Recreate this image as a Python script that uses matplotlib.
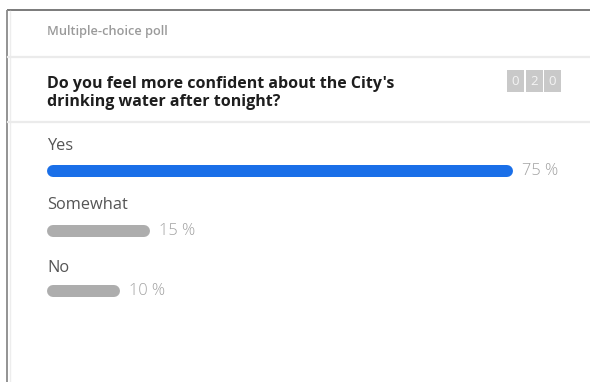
import matplotlib
matplotlib.use("Agg")
import matplotlib.pyplot as plt
from matplotlib.patches import Rectangle

plt.rcParams['font.family'] = ['Open Sans', 'DejaVu Sans']

# Poll content
poll_type = "Multiple-choice poll"
question = "Do you feel more confident about the City's\ndrinking water after tonight?"
options = ["Yes", "Somewhat", "No"]
percents = [75, 15, 10]
vote_digits = ["0", "2", "0"]

W, H = 590, 382
fig = plt.figure(figsize=(W / 100, H / 100), dpi=100)
fig.patch.set_facecolor("white")

# Overlay axes in pixel units for the card layout
lay = fig.add_axes([0, 0, 1, 1])
lay.set_xlim(0, W)
lay.set_ylim(H, 0)
lay.axis("off")

# Card frame
lay.plot([7, W], [10, 10], color="#6f6f6f", lw=1.3, solid_capstyle="butt")
lay.plot([7, 7], [10, H], color="#8a8a8a", lw=1.3, solid_capstyle="butt")
lay.plot([10, 10], [11, H], color="#ededed", lw=1.0)
# Section separators
for y in (57, 122):
    lay.plot([8, W], [y, y], color="#ebebeb", lw=1.6)

lay.text(47, 31, poll_type, fontsize=9.2, fontweight="semibold", color="#9a9a9a",
         va="center", ha="left")
lay.text(47, 93, question, fontsize=11.5, fontweight="bold", color="#1e1e1e",
         va="center", ha="left", linespacing=1.25)

# Vote counter boxes
bx, bw, gap = 507, 17, 1.5
for i, d in enumerate(vote_digits):
    x0 = bx + i * (bw + gap)
    lay.add_patch(Rectangle((x0, 70), bw, 22, facecolor="#c9c9c9", edgecolor="none"))
    lay.text(x0 + bw / 2, 81.5, d, fontsize=9.5, color="#f4f4f4", ha="center", va="center")

# Bars axes: x in percent, y in pixels
bar_x0_px = 53.0          # pixel position of 0 %
px_per_pct = 6.053        # pixels per percent
ax = fig.add_axes([0, 0, 1, 1], facecolor="none")
ax.set_xlim(-bar_x0_px / px_per_pct, (W - bar_x0_px) / px_per_pct)
ax.set_ylim(H, 0)
ax.axis("off")

label_y = [146, 205, 268]
bar_y = [171, 231, 291]
colors = ["#1a6fe8", "#adadad", "#adadad"]
bar_lw = 12 * 72 / 100   # 12 px thick

for name, pct, ly, by, c in zip(options, percents, label_y, bar_y, colors):
    ax.text(-1, ly, name, fontsize=11.8, color="#555555", ha="left", va="center")
    ax.plot([0, pct], [by, by], color=c, lw=bar_lw, solid_capstyle="round")
    ax.annotate(f"{pct} %", xy=(pct, by), xytext=(15, 0), textcoords="offset pixels",
                fontsize=11.8, fontweight="light", color="#a3a3a3",
                ha="left", va="center")

fig.savefig("out.png", dpi=100, facecolor="white")
